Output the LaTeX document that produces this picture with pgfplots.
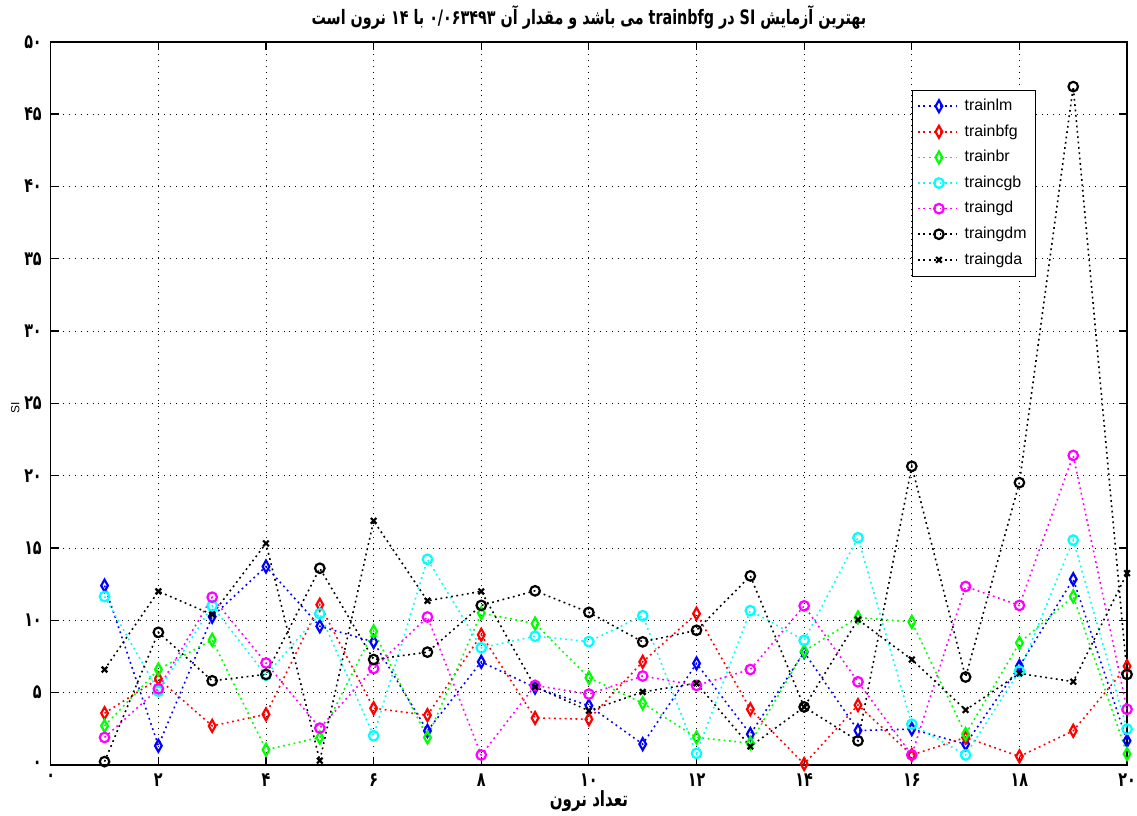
\documentclass[border=0pt]{standalone}
\usepackage{fontspec}
\setmainfont{Liberation Sans}
\newfontfamily\arabicfont[Script=Arabic]{DejaVu Sans}
\newfontfamily\arabicnarrow[Script=Arabic, FakeStretch=0.72]{DejaVu Sans}
\TeXXeTstate=1
\usepackage{pgfplots}
\pgfplotsset{compat=1.18}
\definecolor{mblue}{rgb}{0,0,1}
\definecolor{mred}{rgb}{1,0,0}
\definecolor{mgreen}{rgb}{0,1,0}
\definecolor{mcyan}{rgb}{0,1,1}
\definecolor{mmag}{rgb}{1,0,1}
\begin{document}
\begin{tikzpicture}
\path[use as bounding box] (-25.5bp,-25.5bp) rectangle (546bp,384.5bp);
\begin{axis}[
  at={(0bp,0bp)}, anchor=south west,
  scale only axis, width=541bp, height=363.5bp,
  xmin=0, xmax=20, ymin=0, ymax=50,
  xtick={0,2,...,20},
  xticklabels={۰,۲,۴,۶,۸,۱۰,۱۲,۱۴,۱۶,۱۸,۲۰},
  ytick={0,5,...,50},
  yticklabels={۰,۵,۱۰,۱۵,۲۰,۲۵,۳۰,۳۵,۴۰,۴۵,۵۰},
  tick align=inside, major tick length=4bp,
  tick style={black, line width=0.6bp},
  ticklabel style={font=\arabicnarrow\bfseries\fontsize{10bp}{11bp}\selectfont},
  xticklabel style={yshift=-1bp},
  yticklabel style={xshift=-1bp},
  grid=major,
  grid style={black, line width=0.5bp, dash pattern=on 0.5bp off 2.5bp},
  axis line style={black, line width=0.75bp},
  title={\arabicnarrow\bfseries\beginR بهترین آزمایش SI در trainbfg می باشد  و مقدار آن \beginL ۰/۰۶۳۴۹۳\endL{} با \beginL ۱۴\endL{} نرون است\endR},
  title style={font=\fontsize{10bp}{11bp}\selectfont, yshift=-3.5bp},
  xlabel={\arabicnarrow\bfseries\beginR تعداد نرون\endR},
  xlabel style={font=\fontsize{10.5bp}{11bp}\selectfont, yshift=5bp},
  ylabel={SI},
  ylabel style={font=\fontsize{6bp}{7bp}\selectfont, at={(axis description cs:-0.033,0.494)}, anchor=center},
  legend style={at={(0.80,0.934)}, anchor=north west, draw=black, line width=0.5bp,
    font=\fontsize{8bp}{9bp}\selectfont, row sep=1.6bp, inner sep=2.5bp,
    legend cell align=left},
  legend image code/.code={\draw[mark repeat=2,mark phase=2,#1] plot coordinates {(0bp,0bp) (10.5bp,0bp) (21bp,0bp)};},
  every axis plot/.append style={line width=0.8bp, dash pattern=on 0.9bp off 1.8bp},
  dmd/.style={mark=diamond, mark size=3bp, mark options={solid, xscale=0.75, line width=1.1bp}},
  crc/.style={mark=o, mark size=2.4bp, mark options={solid, line width=1.1bp}},
]
\addplot[mblue, dmd] coordinates {(1,12.4) (2,1.33) (3,10.25) (4,13.72) (5,9.59) (6,8.51) (7,2.36) (8,7.13) (9,5.35) (10,4.1) (11,1.44) (12,7.02) (13,2.13) (14,7.8) (15,2.38) (16,2.48) (17,1.44) (18,6.83) (19,12.84) (20,1.67)};
\addlegendentry{trainlm}
\addplot[mred, dmd] coordinates {(1,3.58) (2,5.96) (3,2.7) (4,3.5) (5,11.08) (6,3.92) (7,3.44) (8,9.0) (9,3.25) (10,3.16) (11,7.13) (12,10.46) (13,3.85) (14,0.063) (15,4.14) (16,0.69) (17,1.9) (18,0.59) (19,2.36) (20,6.83)};
\addlegendentry{trainbfg}
\addplot[mgreen, dmd] coordinates {(1,2.7) (2,6.6) (3,8.65) (4,1.05) (5,1.9) (6,9.24) (7,1.9) (8,10.5) (9,9.77) (10,6.03) (11,4.27) (12,1.9) (13,1.51) (14,7.87) (15,10.2) (16,9.89) (17,2.13) (18,8.44) (19,11.65) (20,0.76)};
\addlegendentry{trainbr}
\addplot[mcyan, crc] coordinates {(1,11.65) (2,5.1) (3,11.0) (4,6.2) (5,10.46) (6,2.02) (7,14.22) (8,8.1) (9,8.9) (10,8.53) (11,10.32) (12,0.8) (13,10.67) (14,8.62) (15,15.71) (16,2.82) (17,0.69) (18,6.49) (19,15.55) (20,2.48)};
\addlegendentry{traincgb}
\addplot[mmag, crc] coordinates {(1,1.9) (2,5.27) (3,11.6) (4,7.05) (5,2.55) (6,6.67) (7,10.23) (8,0.69) (9,5.5) (10,4.9) (11,6.15) (12,5.5) (13,6.6) (14,11.0) (15,5.75) (16,0.69) (17,12.34) (18,11.03) (19,21.4) (20,3.85)};
\addlegendentry{traingd}
\addplot[black, crc] coordinates {(1,0.23) (2,9.17) (3,5.82) (4,6.26) (5,13.6) (6,7.29) (7,7.8) (8,11.03) (9,12.04) (10,10.55) (11,8.51) (12,9.31) (13,13.07) (14,4.01) (15,1.67) (16,20.65) (17,6.08) (18,19.52) (19,46.9) (20,6.26)};
\addlegendentry{traingdm}
\addplot[black, mark=x, mark size=2bp, mark options={solid, line width=1.1bp}] coordinates {(1,6.6) (2,12.0) (3,10.4) (4,15.32) (5,0.3) (6,16.88) (7,11.35) (8,12.0) (9,5.4) (10,3.75) (11,5.05) (12,5.65) (13,1.28) (14,4.0) (15,10.05) (16,7.29) (17,3.8) (18,6.33) (19,5.76) (20,13.26)};
\addlegendentry{traingda}
\end{axis}
\end{tikzpicture}
\end{document}
